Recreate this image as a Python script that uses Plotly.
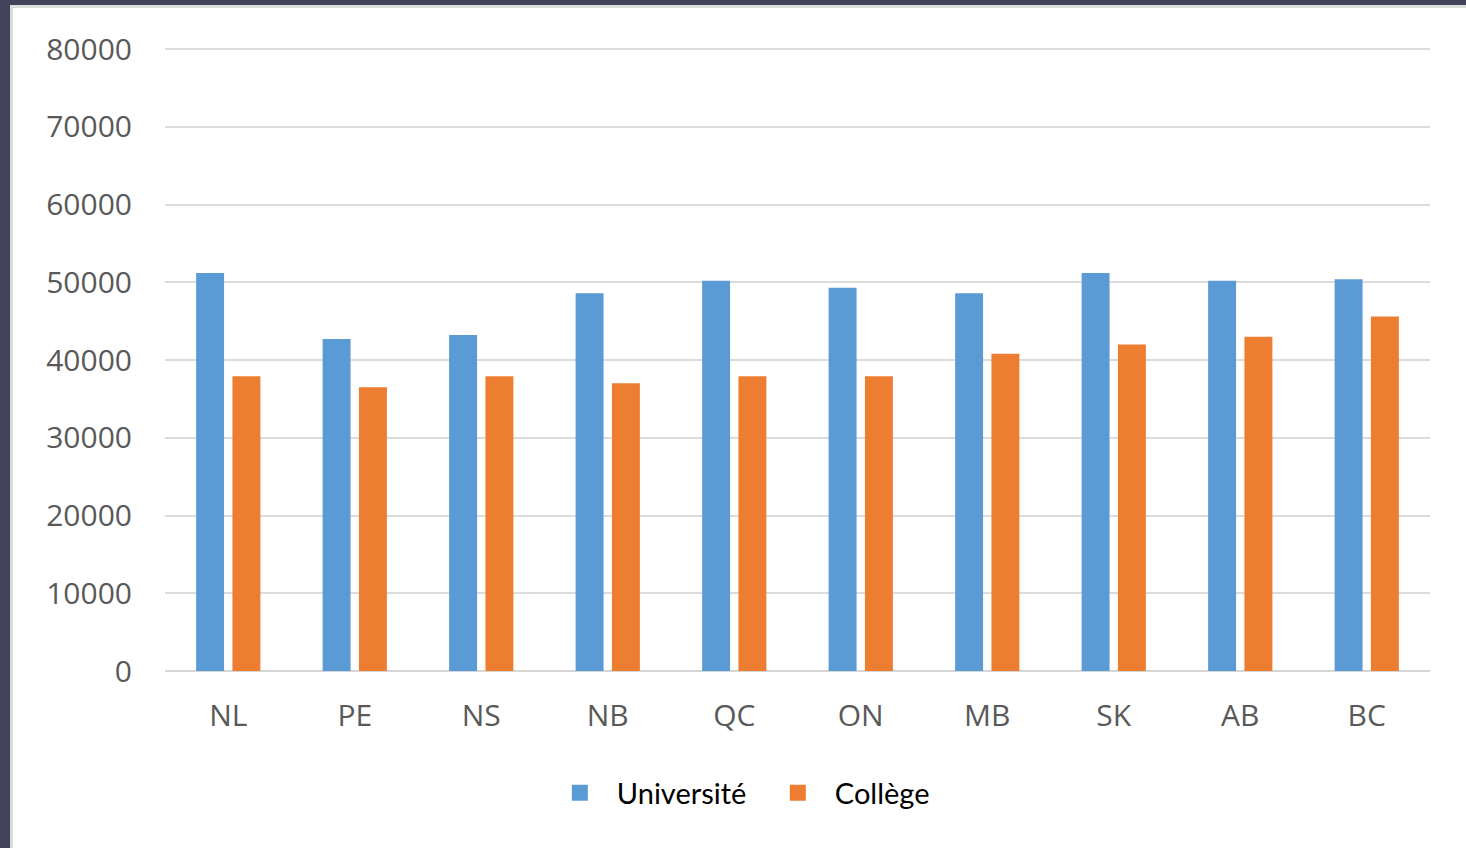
import plotly.graph_objects as go

provinces = ["NL", "PE", "NS", "NB", "QC", "ON", "MB", "SK", "AB", "BC"]
universite = [51200, 42700, 43200, 48600, 50200, 49300, 48600, 51200, 50200, 50400]
college = [37900, 36500, 37900, 37000, 37900, 37900, 40800, 42000, 43000, 45600]
y_ticks = [0, 10000, 20000, 30000, 40000, 50000, 60000, 70000, 80000]
series_names = ["Université", "Collège"]
series_colors = ["#5B9BD5", "#ED7D31"]

W, H = 1466, 848
L, R, T, B = 165, 36, 44, 177
pw, ph = W - L - R, H - T - B
y_max = 80000 * ph / 622.0

def px(x):
    return (x - L) / pw

def py(y):
    return (H - B - y) / ph

fig = go.Figure()
for name, vals, col in zip(series_names, [universite, college], series_colors):
    fig.add_trace(go.Bar(name=name, x=provinces, y=vals, showlegend=False,
                         marker=dict(color=col, line=dict(width=0))))
# legend entries with larger square markers
for name, col in zip(series_names, series_colors):
    fig.add_trace(go.Scatter(name=name, x=[None], y=[None], mode="markers",
                             marker=dict(symbol="square", size=19, color=col),
                             showlegend=True))

shapes = [
    dict(type="rect", xref="paper", yref="paper", x0=px(0), x1=px(W), y0=py(0), y1=py(8),
         fillcolor="#dcdcdc", line=dict(width=0), layer="below"),
    dict(type="rect", xref="paper", yref="paper", x0=px(0), x1=px(13), y0=py(0), y1=py(H),
         fillcolor="#dcdcdc", line=dict(width=0), layer="below"),
    dict(type="rect", xref="paper", yref="paper", x0=px(0), x1=px(W), y0=py(0), y1=py(5),
         fillcolor="#42435a", line=dict(width=0), layer="below"),
    dict(type="rect", xref="paper", yref="paper", x0=px(0), x1=px(10), y0=py(0), y1=py(H),
         fillcolor="#42435a", line=dict(width=0), layer="below"),
]

fig.update_layout(
    width=W, height=H,
    margin=dict(l=L, r=R, t=T, b=B, pad=0),
    paper_bgcolor="white", plot_bgcolor="white",
    barmode="group", bargap=0.426, bargroupgap=0.23,
    font=dict(family="Open Sans, sans-serif", color="#595959"),
    showlegend=True,
    legend=dict(orientation="h", x=0.471, xanchor="center", y=py(793), yanchor="middle",
                font=dict(family="Lato, sans-serif", size=29, color="#000000"),
                itemwidth=64, entrywidth=139, entrywidthmode="pixels",
                traceorder="normal"),
    shapes=shapes,
)
fig.update_xaxes(showgrid=False, showline=False, zeroline=False,
                 tickfont=dict(size=30, color="#595959"), ticks="",
                 ticklabelstandoff=24, fixedrange=True)
fig.update_yaxes(range=[0, y_max], tickvals=y_ticks, ticktext=[str(v) for v in y_ticks],
                 showgrid=True, gridcolor="#dcdcdc", gridwidth=2,
                 zeroline=True, zerolinecolor="#d6d6d6", zerolinewidth=2,
                 showline=False, ticks="",
                 tickfont=dict(size=30, color="#595959"),
                 ticklabelstandoff=32, fixedrange=True)

fig.write_html("out.html")
